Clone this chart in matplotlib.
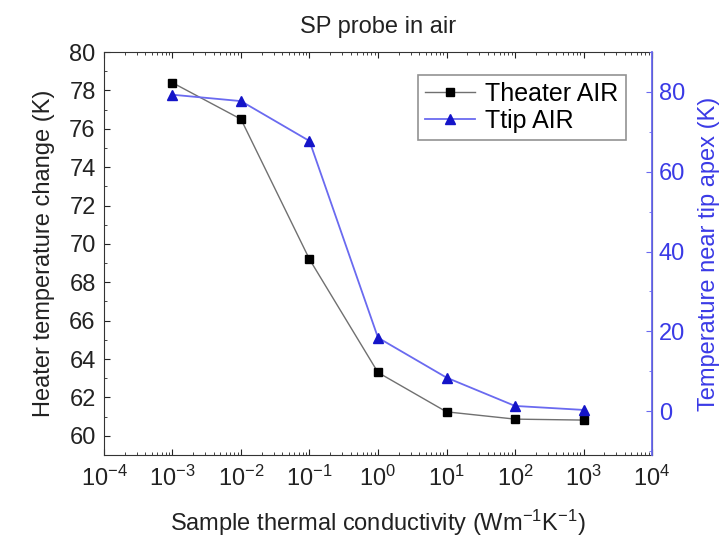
import matplotlib
matplotlib.use('Agg')
import matplotlib.pyplot as plt
from matplotlib.ticker import MultipleLocator, LogLocator, NullFormatter

plt.rcParams['font.family'] = ['Liberation Sans', 'DejaVu Sans']
plt.rcParams['mathtext.fontset'] = 'custom'
plt.rcParams['mathtext.rm'] = 'Liberation Sans'
plt.rcParams['mathtext.it'] = 'Liberation Sans'

# sample thermal conductivity (W/mK)
conductivity = [1e-3, 1e-2, 1e-1, 1e0, 1e1, 1e2, 1e3]
theater_air = [78.4, 76.5, 69.2, 63.3, 61.25, 60.87, 60.82]
ttip_air = [79.3, 77.7, 67.7, 18.4, 8.4, 1.3, 0.3]

BLUE = '#3a3ae6'
AXBLUE = '#6a6af0'
TEXT = '#222222'

fig = plt.figure(figsize=(7.24, 5.42), dpi=100)
ax = fig.add_axes([0.1436, 0.1605, 0.757, 0.7435])
ax2 = ax.twinx()

l1, = ax.plot(conductivity, theater_air, color='#707070', lw=1.0,
              marker='s', ms=6, mfc='black', mec='black', label='Theater AIR')
l2, = ax2.plot(conductivity, ttip_air, color=AXBLUE, lw=1.3,
               marker='^', ms=7, mfc='#1414c8', mec='#1414c8', label='Ttip AIR')

ax.set_xscale('log')
ax.set_xlim(1e-4, 1e4)
ax.set_ylim(59, 80)
ax2.set_ylim(-11, 90)

ax.xaxis.set_major_locator(LogLocator(base=10, numticks=20))
ax.xaxis.set_minor_locator(LogLocator(base=10, subs=range(2, 10), numticks=20))
ax.xaxis.set_minor_formatter(NullFormatter())
ax.yaxis.set_major_locator(MultipleLocator(2))
ax.yaxis.set_minor_locator(MultipleLocator(1))
ax2.yaxis.set_major_locator(MultipleLocator(20))
ax2.yaxis.set_minor_locator(MultipleLocator(10))

ax.tick_params(which='both', direction='in', top=True, colors=TEXT, labelsize=17)
ax.tick_params(which='major', length=4, pad=6)
ax.tick_params(which='minor', length=2)
ax.tick_params(axis='x', which='major', pad=8)
ax2.tick_params(which='both', direction='in', colors=AXBLUE, labelcolor=BLUE, labelsize=17)
ax2.tick_params(which='major', length=4, pad=5)
ax2.tick_params(which='minor', length=2)

for s in ['left', 'bottom', 'top']:
    ax.spines[s].set_color('#333333')
ax2.spines['right'].set_color(AXBLUE)
ax2.spines['right'].set_linewidth(1.3)
for s in ['left', 'bottom', 'top']:
    ax2.spines[s].set_visible(False)

ax.set_xlabel('Sample thermal conductivity (Wm$^{-1}$K$^{-1}$)', fontsize=17, color=TEXT, labelpad=12)
ax.set_ylabel('Heater temperature change (K)', fontsize=17, color=TEXT, labelpad=10)
ax2.set_ylabel('Temperature near tip apex (K)', fontsize=17, color=BLUE, labelpad=9)
ax.set_title('SP probe in air', fontsize=17, color=TEXT, pad=14)

leg = ax2.legend(handles=[l1, l2], loc='upper right', bbox_to_anchor=(0.975, 0.975),
                 fontsize=18, frameon=True, fancybox=False, handlelength=2.0,
                 borderpad=0.3, labelspacing=0.1, handletextpad=0.4)
leg.get_frame().set_edgecolor('#777777')
leg.get_frame().set_linewidth(1.2)

fig.savefig('out.png', dpi=100)
